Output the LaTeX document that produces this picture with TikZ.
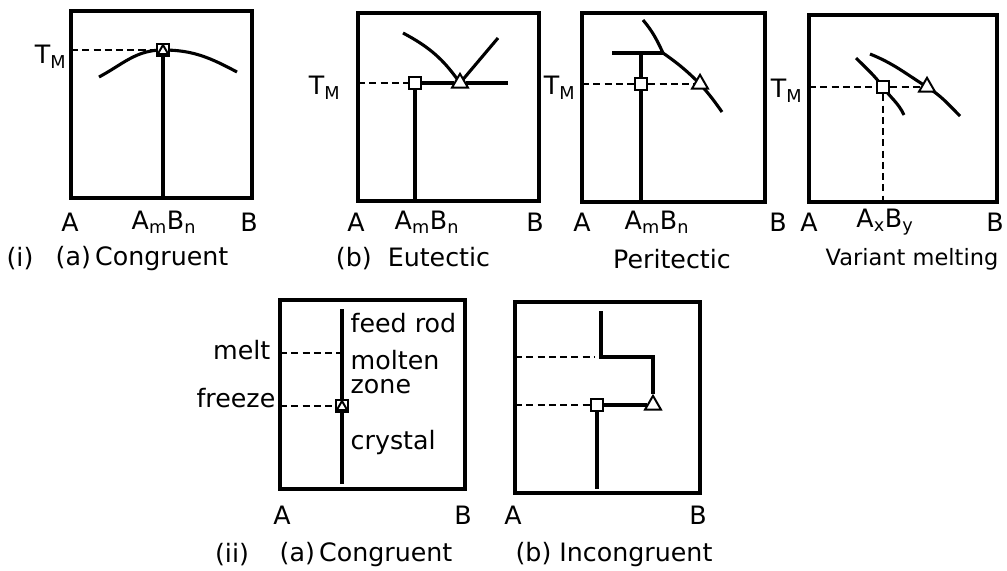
\documentclass[tikz,border=0pt]{standalone}
\usepackage{fontspec}
\setmainfont{DejaVu Sans}
\usetikzlibrary{positioning, shapes.geometric}

\begin{document}
\begin{tikzpicture}[x=0.025cm, y=-0.025cm,
    frame/.style={draw, line width=2.6pt},
    curve/.style={line width=2.2pt},
    level/.style={line width=2pt, dash pattern=on 5pt off 3pt},
    sq/.style={rectangle, draw, fill=white, line width=1.4pt, minimum size=0.32cm, inner sep=0pt},
    tri/.style={regular polygon, regular polygon sides=3, draw, fill=white, line width=1.4pt,
                minimum size=0.46cm, inner sep=0pt},
    lab/.style={font=\fontsize{18}{21}\selectfont, inner sep=1pt},
]
\useasboundingbox (0,0) rectangle (1007,571);

% (i)(a) congruent
\draw[frame] (71,11) rectangle (252,198);
\draw[curve] (99,77) to[out=28,in=180] (163,50) to[out=0,in=152] (237,72);
\coordinate (a1) at (71,50);
\coordinate (b1) at (163,198);
\node[sq] (m1) at (163,50) {};
\node[tri, minimum size=0.3cm] (t1) at (163,51) {};
\draw[level] (a1) -- (m1);
\draw[curve] (m1) -- (b1);
\node[lab, anchor=east] (tm1) at (68,57) {T\textsubscript{M}};
\node[lab] (xa1) at (70,222) {A};
\node[lab] (xc1) at (164,222) {A\textsubscript{m}B\textsubscript{n}};
\node[lab] (xb1) at (249,222) {B};
\node[lab] (num1) at (20,259) {(i)};
\node[lab] (cap1) at (142,259) {(a)\,Congruent};

% (b) eutectic
\draw[frame] (358,13) rectangle (539,201);
\draw[curve] (403,33) to[out=-28,in=125] (460,83);
\draw[curve] (460,83) -- (498,38);
\coordinate (a2) at (358,83);
\coordinate (e2) at (508,83);
\coordinate (b2) at (415,201);
\node[sq] (m2) at (415,83) {};
\node[tri] (t2) at (460,83) {};
\draw[level] (a2) -- (m2);
\draw[curve] (m2) -- (t2);
\draw[curve] (t2) -- (e2);
\draw[curve] (m2) -- (b2);
\node[lab, anchor=east] (tm2) at (342,88) {T\textsubscript{M}};
\node[lab] (xa2) at (356,222) {A};
\node[lab] (xc2) at (427,222) {A\textsubscript{m}B\textsubscript{n}};
\node[lab] (xb2) at (535,222) {B};
\node[lab] (cap2) at (413,259) {(b)\ \ Eutectic};

% peritectic
\draw[frame] (582,13) rectangle (765,202);
\coordinate (k3) at (663,53);
\coordinate (h3) at (612,53);
\coordinate (u3) at (641,53);
\coordinate (a3) at (582,84);
\coordinate (b3) at (641,202);
\draw[curve] (643,20) to[out=-50,in=115] (k3);
\draw[curve] (k3) to[out=-35,in=135] (700,84) to[out=-48,in=125] (722,112);
\draw[curve] (h3) -- (k3);
\node[sq] (m3) at (641,84) {};
\node[tri] (t3) at (700,84) {};
\draw[level] (a3) -- (m3);
\draw[level] (m3) -- (t3);
\draw[curve] (m3) -- (u3);
\draw[curve] (m3) -- (b3);
\node[lab, anchor=east] (tm3) at (577,88) {T\textsubscript{M}};
\node[lab] (xa3) at (582,222) {A};
\node[lab] (xc3) at (657,222) {A\textsubscript{m}B\textsubscript{n}};
\node[lab] (xb3) at (778,222) {B};
\node[lab] (cap3) at (672,259) {Peritectic};

% variant melting
\draw[frame] (809,15) rectangle (997,202);
\draw[curve] (856,58) to[out=-45,in=127] (883,87) to[out=-55,in=115] (904,115);
\draw[curve] (870,54) to[out=-22,in=148] (927,87) to[out=-32,in=135] (960,116);
\coordinate (a4) at (809,87);
\coordinate (b4) at (883,202);
\node[sq] (m4) at (883,87) {};
\node[tri] (t4) at (927,87) {};
\draw[level] (a4) -- (m4);
\draw[level] (m4) -- (t4);
\draw[level] (m4) -- (b4);
\node[lab, anchor=east] (tm4) at (804,91) {T\textsubscript{M}};
\node[lab] (xa4) at (809,222) {A};
\node[lab] (xc4) at (885,222) {A\textsubscript{x}B\textsubscript{y}};
\node[lab] (xb4) at (995,222) {B};
\node[lab, font=\fontsize{16}{19}\selectfont] (cap4) at (912,259) {Variant melting};

% (ii)(a) zone melting, congruent
\draw[frame] (280,300) rectangle (465,489);
\coordinate (r5) at (342,309);
\coordinate (b5) at (342,484);
\coordinate (c5) at (342,353);
\coordinate (a5) at (280,353);
\coordinate (f5) at (280,406);
\node[sq] (m5) at (342,406) {};
\node[tri, minimum size=0.3cm] (t5) at (342,407) {};
\draw[curve] (r5) -- (m5);
\draw[curve] (m5) -- (b5);
\draw[level] (a5) -- (c5);
\draw[level] (f5) -- (m5);
\node[lab, anchor=east] (melt) at (272,350) {melt};
\node[lab, anchor=east] (freeze) at (277,398) {freeze};
\node[lab, anchor=west] (feed) at (349,323) {feed rod};
\node[lab, anchor=west, inner ysep=0pt] (molten) at (349,360) {molten};
\node[lab, anchor=west, inner ysep=0pt] (zone) at (349,387) {zone};
\node[lab, anchor=west] (cryst) at (349,443) {crystal};
\node[lab] (xa5) at (282,515) {A};
\node[lab] (xb5) at (463,515) {B};
\node[lab] (num5) at (232,555) {(ii)};
\node[lab] (cap5) at (366,555) {(a)\,Congruent};

% (b) incongruent
\draw[frame] (515,302) rectangle (700,493);
\coordinate (r6) at (601,311);
\coordinate (c6) at (601,357);
\coordinate (d6) at (653,357);
\coordinate (b6) at (597,489);
\coordinate (a6) at (515,357);
\coordinate (e6) at (595,357);
\coordinate (f6) at (515,405);
\node[sq] (m6) at (597,405) {};
\node[tri] (t6) at (653,405) {};
\draw[curve] (r6) -- (c6) -- (d6) -- (t6);
\draw[curve] (m6) -- (t6);
\draw[curve] (m6) -- (b6);
\draw[level] (a6) -- (e6);
\draw[level] (f6) -- (m6);
\node[lab] (xa6) at (513,515) {A};
\node[lab] (xb6) at (698,515) {B};
\node[lab] (cap6) at (614,555) {(b) Incongruent};

\end{tikzpicture}
\end{document}
